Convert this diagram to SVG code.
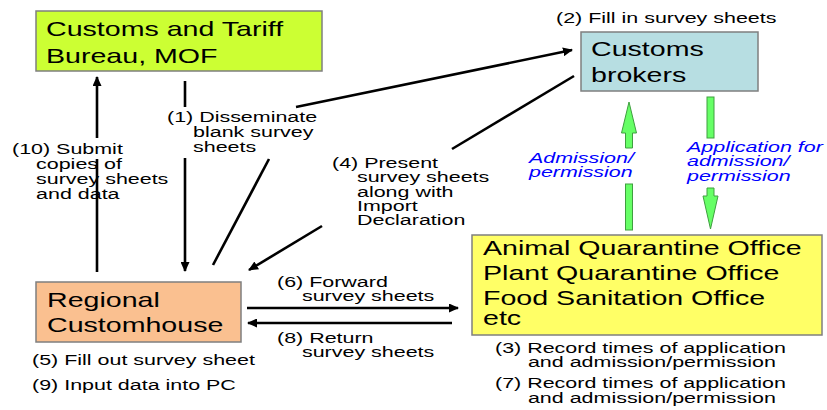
<svg xmlns="http://www.w3.org/2000/svg" width="827" height="410" viewBox="0 0 827 410">
<style>
text { font-family: "Liberation Sans", Arial, sans-serif; fill: #000; }
.big { font-size: 20px; }
.sm { font-size: 14px; }
.blue { font-size: 14px; font-style: italic; fill: #0000ff; }
.box { stroke: #7f7f7f; stroke-width: 1.5; }
.conn { stroke: #000; stroke-width: 2.6; fill: none; }
.green { fill: #66ff66; stroke: #3f9f3f; stroke-width: 1; }
</style>
<defs>
<marker id="ah" markerUnits="userSpaceOnUse" markerWidth="10" markerHeight="9" refX="9" refY="4.5" orient="auto">
<path d="M0,0 L10,4.5 L0,9 z" fill="#000"/>
</marker>
</defs>
<rect width="827" height="410" fill="#fff"/>

<g id="connectors">
<line class="conn" x1="97" y1="272" x2="97" y2="159"/>
<line class="conn" x1="97" y1="138" x2="97" y2="77" marker-end="url(#ah)"/>
<line class="conn" x1="185" y1="81" x2="185" y2="107"/>
<line class="conn" x1="185" y1="158" x2="185" y2="271" marker-end="url(#ah)"/>
<line class="conn" x1="213" y1="265" x2="269" y2="159"/>
<line class="conn" x1="296" y1="107" x2="572" y2="50" marker-end="url(#ah)"/>
<line class="conn" x1="574" y1="76" x2="452" y2="149"/>
<line class="conn" x1="322" y1="226" x2="249" y2="270" marker-end="url(#ah)"/>
<line class="conn" x1="247" y1="308" x2="458" y2="308" marker-end="url(#ah)"/>
<line class="conn" x1="452" y1="323" x2="248" y2="323" marker-end="url(#ah)"/>
<g id="green-up">
<polygon class="green" points="629,102 636.5,133 632.5,133 632.5,148 625.5,148 625.5,133 621.5,133"/>
<rect class="green" x="625.5" y="184" width="7" height="46"/>
</g>
<g id="green-down">
<rect class="green" x="707" y="97" width="7" height="41"/>
<polygon class="green" points="707,188 714,188 714,196 718,196 710.5,229 703,196 707,196"/>
</g>
</g>

<g id="customs-bureau">
<rect class="box" x="36" y="11" width="286" height="60" fill="#ccff33"/>
<text class="big" transform="translate(46,36) scale(1.43,1)">Customs and Tariff</text>
<text class="big" transform="translate(46,63) scale(1.43,1)">Bureau, MOF</text>
</g>

<g id="customs-brokers">
<rect class="box" x="581" y="32" width="177" height="59" fill="#b7dee2"/>
<text class="big" transform="translate(591,56) scale(1.43,1)">Customs</text>
<text class="big" transform="translate(591,82) scale(1.43,1)">brokers</text>
<text class="sm" transform="translate(556,23) scale(1.532,1)">(2) Fill in survey sheets</text>
</g>

<g id="regional-customhouse">
<rect class="box" x="36" y="282" width="205" height="60" fill="#fac090"/>
<text class="big" transform="translate(47,307) scale(1.43,1)">Regional</text>
<text class="big" transform="translate(47,332) scale(1.43,1)">Customhouse</text>
<text class="sm" transform="translate(32,365) scale(1.532,1)">(5) Fill out survey sheet</text>
<text class="sm" transform="translate(32,390) scale(1.532,1)">(9) Input data into PC</text>
</g>

<g id="quarantine-offices">
<rect class="box" x="472" y="235" width="350" height="100" fill="#ffff66"/>
<text class="big" transform="translate(483,255) scale(1.43,1)">Animal Quarantine Office</text>
<text class="big" transform="translate(483,280) scale(1.43,1)">Plant Quarantine Office</text>
<text class="big" transform="translate(483,305) scale(1.43,1)">Food Sanitation Office</text>
<text class="big" transform="translate(483,325) scale(1.43,1)">etc</text>
<text class="sm" transform="translate(495,353) scale(1.532,1)"><tspan x="0" y="0">(3) Record times of application</tspan><tspan x="21.5" y="14">and admission/permission</tspan></text>
<text class="sm" transform="translate(495,388) scale(1.532,1)"><tspan x="0" y="0">(7) Record times of application</tspan><tspan x="21.5" y="15">and admission/permission</tspan></text>
</g>

<g id="labels">
<text class="sm" transform="translate(12,154) scale(1.532,1)"><tspan x="0" y="0">(10) Submit</tspan><tspan x="15.7" y="15">copies of</tspan><tspan x="15.7" y="30">survey sheets</tspan><tspan x="15.7" y="45">and data</tspan></text>
<text class="sm" transform="translate(167,122) scale(1.532,1)"><tspan x="0" y="0">(1) Disseminate</tspan><tspan x="17" y="15">blank survey</tspan><tspan x="17" y="30">sheets</tspan></text>
<text class="sm" transform="translate(332,168) scale(1.532,1)"><tspan x="0" y="0">(4) Present</tspan><tspan x="16.3" y="14.3">survey sheets</tspan><tspan x="16.3" y="28.6">along with</tspan><tspan x="16.3" y="42.9">Import</tspan><tspan x="16.3" y="57.2">Declaration</tspan></text>
<text class="sm" transform="translate(277,287) scale(1.532,1)"><tspan x="0" y="0">(6) Forward</tspan><tspan x="16.3" y="14">survey sheets</tspan></text>
<text class="sm" transform="translate(277,343) scale(1.532,1)"><tspan x="0" y="0">(8) Return</tspan><tspan x="16.3" y="14">survey sheets</tspan></text>
<text class="blue" transform="translate(529,162.5) scale(1.532,1)"><tspan x="0" y="0">Admission/</tspan><tspan x="0" y="14.5">permission</tspan></text>
<text class="blue" transform="translate(687,152) scale(1.532,1)"><tspan x="0" y="0">Application for</tspan><tspan x="0" y="14.5">admission/</tspan><tspan x="0" y="29">permission</tspan></text>
</g>
</svg>
